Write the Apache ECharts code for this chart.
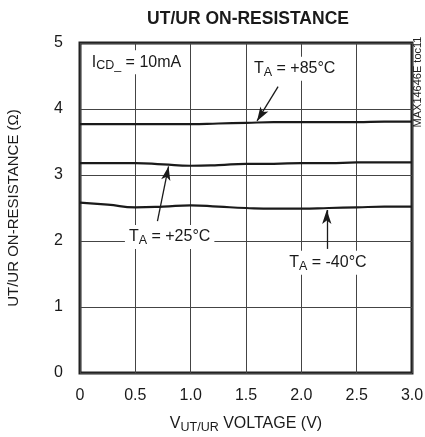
<!DOCTYPE html>
<html>
<head>
<meta charset="utf-8">
<script src="https://cdn.jsdelivr.net/npm/echarts@6/dist/echarts.min.js"></script>
<style>
  html, body { margin: 0; padding: 0; background: #fff; }
  #main { width: 425px; height: 437px; }
</style>
</head>
<body>
<div id="main"></div>
<script>
// data
var volts = [0, 0.25, 0.5, 0.75, 1.0, 1.25, 1.5, 1.75, 2.0, 2.25, 2.5, 2.75, 3.0];
var r85 = [3.77, 3.77, 3.77, 3.77, 3.77, 3.78, 3.79, 3.80, 3.80, 3.80, 3.80, 3.81, 3.81];
var r25 = [3.18, 3.18, 3.18, 3.16, 3.14, 3.15, 3.17, 3.17, 3.18, 3.18, 3.19, 3.19, 3.19];
var rm40 = [2.58, 2.55, 2.51, 2.52, 2.54, 2.52, 2.50, 2.49, 2.49, 2.50, 2.51, 2.52, 2.52];
var xTicks = ["0", "0.5", "1.0", "1.5", "2.0", "2.5", "3.0"];
var yTicks = ["0", "1", "2", "3", "4", "5"];

var FONT = '"Liberation Sans Narrow", "Liberation Sans", Arial, sans-serif';
var INK = "#1a1a1a";

function pairs(ys) {
  return volts.map(function (v, i) { return [v, ys[i]]; });
}

var richText = {
  b: { fontFamily: FONT, fontSize: 16, color: INK, lineHeight: 18 },
  s: { fontFamily: FONT, fontSize: 12.5, color: INK, lineHeight: 18, padding: [7, 0, 0, 0] }
};

function note(text, coord) {
  return {
    coord: coord,
    symbol: "rect",
    symbolSize: 0,
    label: {
      show: true,
      position: "inside",
      formatter: text,
      backgroundColor: "#fff",
      padding: [3, 4, 3, 4],
      rich: richText
    }
  };
}

function arrow(from, to) {
  return [{ coord: from }, { coord: to }];
}

var chart = echarts.init(document.getElementById("main"));

var option = {
  animation: false,
  backgroundColor: "#fff",
  title: {
    text: "UT/UR ON-RESISTANCE",
    left: 243,
    top: 5,
    textAlign: "center",
    textStyle: { fontFamily: FONT, fontSize: 17.5, fontWeight: "bold", color: INK }
  },
  grid: {
    left: 80, right: 13, top: 43, bottom: 64,
    outerBoundsMode: "none",
    show: true, borderWidth: 3, borderColor: "#222"
  },
  xAxis: {
    type: "value",
    min: 0, max: 3, interval: 0.5,
    name: "{b|V}{s|UT/UR}{b| VOLTAGE (V)}",
    nameLocation: "middle",
    nameGap: 42,
    nameTextStyle: { rich: richText },
    axisLine: { show: false },
    axisTick: { show: false },
    axisLabel: {
      margin: 15,
      fontFamily: FONT, fontSize: 16, color: INK,
      formatter: function (v) { return xTicks[Math.round(v * 2)]; }
    },
    splitLine: { lineStyle: { color: "#444", width: 1 } }
  },
  yAxis: {
    type: "value",
    min: 0, max: 5, interval: 1,
    name: "UT/UR ON-RESISTANCE (\u03A9)",
    nameLocation: "middle",
    nameGap: 59,
    nameTextStyle: { fontFamily: FONT, fontSize: 15, color: INK },
    axisLine: { show: false },
    axisTick: { show: false },
    axisLabel: {
      margin: 17,
      fontFamily: FONT, fontSize: 16, color: INK,
      formatter: function (v) { return yTicks[v]; }
    },
    splitLine: { lineStyle: { color: "#444", width: 1 } }
  },
  graphic: [{
    type: "text",
    x: 418, y: 82,
    rotation: Math.PI / 2,
    style: {
      text: "MAX14646E toc11",
      fontFamily: FONT, fontSize: 11, fill: "#222",
      align: "center", verticalAlign: "middle"
    }
  }],
  series: [
    {
      name: "+85", type: "line", smooth: true, symbol: "none",
      data: pairs(r85),
      lineStyle: { color: INK, width: 2.2 },
      markPoint: { data: [note("{b|T}{s|A}{b| = +85\u00B0C}", [1.94, 4.61]),
                          note("{b|I}{s|CD_}{b| = 10mA}", [0.51, 4.71])] },
      markLine: {
        symbol: ["none", "arrow"], symbolSize: [7, 14], silent: true,
        lineStyle: { color: INK, width: 1.3, type: "solid" },
        label: { show: false },
        data: [arrow([1.79, 4.34], [1.60, 3.82])]
      }
    },
    {
      name: "+25", type: "line", smooth: true, symbol: "none",
      data: pairs(r25),
      lineStyle: { color: INK, width: 2.2 },
      markPoint: { data: [note("{b|T}{s|A}{b| = +25\u00B0C}", [0.81, 2.06])] },
      markLine: {
        symbol: ["none", "arrow"], symbolSize: [7, 14], silent: true,
        lineStyle: { color: INK, width: 1.3, type: "solid" },
        label: { show: false },
        data: [arrow([0.70, 2.30], [0.80, 3.13])]
      }
    },
    {
      name: "-40", type: "line", smooth: true, symbol: "none",
      data: pairs(rm40),
      lineStyle: { color: INK, width: 2.2 },
      markPoint: { data: [note("{b|T}{s|A}{b| = -40\u00B0C}", [2.24, 1.67])] },
      markLine: {
        symbol: ["none", "arrow"], symbolSize: [7, 14], silent: true,
        lineStyle: { color: INK, width: 1.3, type: "solid" },
        label: { show: false },
        data: [arrow([2.23, 1.88], [2.23, 2.47])]
      }
    }
  ]
};

chart.setOption(option);
</script>
</body>
</html>
